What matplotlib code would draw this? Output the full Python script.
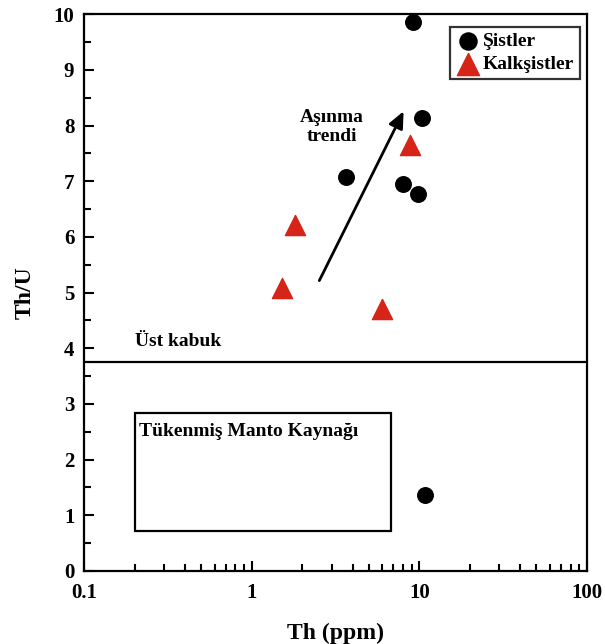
import numpy as np
import matplotlib
matplotlib.use('Agg')
import matplotlib.pyplot as plt
from matplotlib.patches import Rectangle
from matplotlib.ticker import LogLocator, NullFormatter, FixedLocator

plt.rcParams['font.family'] = ['Liberation Serif', 'DejaVu Serif']
plt.rcParams['font.weight'] = 'bold'

# Şistler (schists)
sist_th = [9.2, 10.4, 3.65, 8.0, 9.8, 10.8]
sist_thu = [9.86, 8.13, 7.07, 6.95, 6.77, 1.36]

# Kalkşistler (calc-schists)
kalk_th = [8.8, 1.81, 1.52, 5.98]
kalk_thu = [7.65, 6.21, 5.08, 4.70]

upper_crust = 3.75
mantle_box = (0.2, 6.8, 0.72, 2.84)   # x0, x1, y0, y1
trend_start = (2.49, 5.17)
trend_end = (8.2, 8.3)

fig = plt.figure(figsize=(6.05, 6.44), dpi=100)
ax = fig.add_axes([0.139, 0.1134, 0.831, 0.8646])

ax.scatter(sist_th, sist_thu, s=125, marker='o', color='black', zorder=3, label='Şistler')
ax.scatter(kalk_th, kalk_thu, s=210, marker='^', color='#d62418', zorder=3, label='Kalkşistler')

ax.axhline(upper_crust, color='black', lw=1.6)
x0, x1, y0, y1 = mantle_box
ax.add_patch(Rectangle((x0, y0), x1 - x0, y1 - y0, fill=False, lw=1.6, ec='black'))

ax.annotate('', xy=trend_end, xytext=trend_start,
            arrowprops=dict(arrowstyle='-|>,head_length=1.0,head_width=0.45',
                            color='black', lw=2))

ax.text(3.0, 7.97, 'Aşınma\ntrendi', ha='center', va='center', fontsize=14,
        fontweight='bold', linespacing=1.15)
ax.text(0.2, 4.13, 'Üst kabuk', ha='left', va='center', fontsize=14, fontweight='bold')
ax.text(0.212, 2.5, 'Tükenmiş Manto Kaynağı', ha='left', va='center', fontsize=14,
        fontweight='bold')

ax.set_xscale('log')
ax.set_xlim(0.1, 100)
ax.set_ylim(0, 10)
ax.set_xticks([0.1, 1, 10, 100])
ax.set_xticklabels(['0.1', '1', '10', '100'])
ax.xaxis.set_minor_locator(LogLocator(base=10, subs=np.arange(2, 10)))
ax.xaxis.set_minor_formatter(NullFormatter())
ax.set_yticks(range(0, 11))
ax.yaxis.set_minor_locator(FixedLocator(np.arange(0.5, 10, 1)))

ax.tick_params(axis='both', which='both', direction='in', top=False, right=False,
               labelsize=15, width=1.5)
ax.tick_params(axis='both', which='major', length=7)
ax.tick_params(axis='y', which='major', pad=7)
ax.tick_params(axis='x', which='major', pad=9)
ax.tick_params(axis='both', which='minor', length=5)
for lab in ax.get_xticklabels() + ax.get_yticklabels():
    lab.set_fontweight('bold')
for sp in ax.spines.values():
    sp.set_linewidth(1.6)

ax.set_xlabel('Th (ppm)', fontsize=17, fontweight='bold', labelpad=14)
ax.set_ylabel('Th/U', fontsize=17, fontweight='bold', labelpad=13)

leg = ax.legend(loc='upper right', bbox_to_anchor=(0.986, 0.977), borderaxespad=0,
                frameon=True, fancybox=False, edgecolor='black', handletextpad=0.1,
                borderpad=0.3, labelspacing=0.25, handlelength=1.3, scatterpoints=1,
                markerscale=1.1, prop={'weight': 'bold', 'size': 14})
leg.get_frame().set_linewidth(1.6)

fig.savefig('out.png', dpi=100)
